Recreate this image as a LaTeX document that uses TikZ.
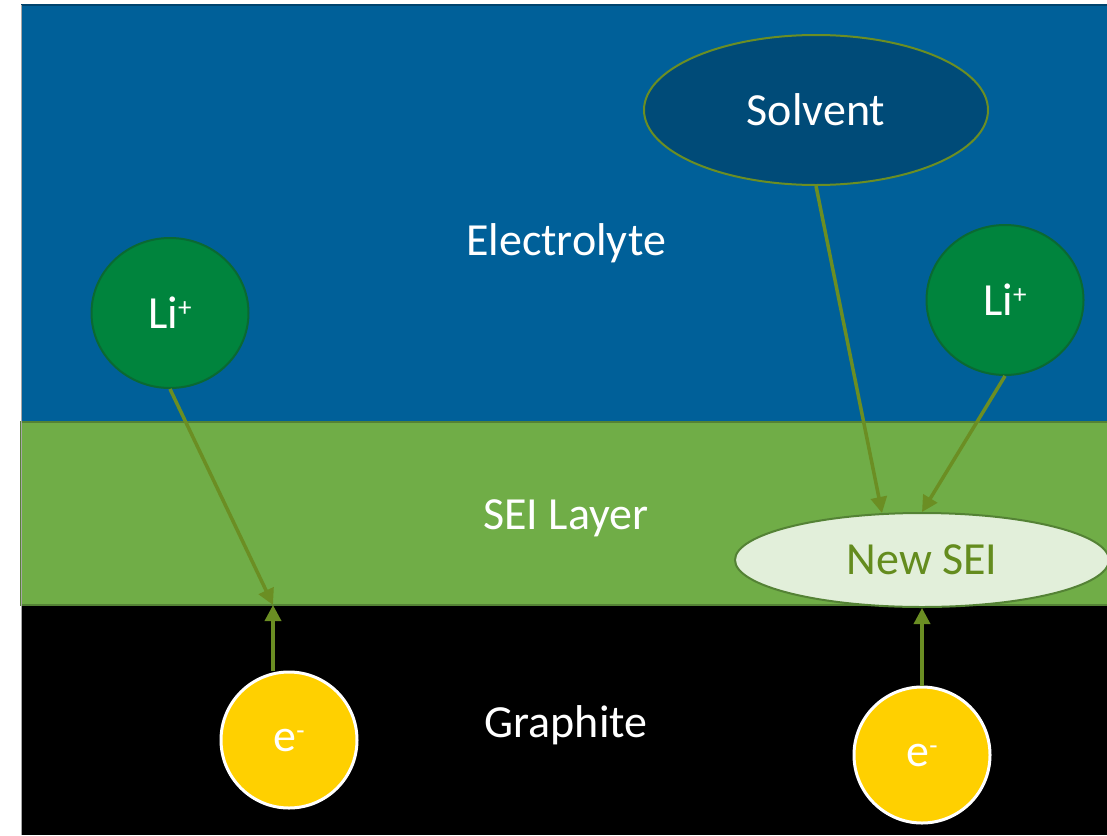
\documentclass[tikz,border=0pt]{standalone}
\usepackage{fontspec}
\setmainfont{Carlito}
\usetikzlibrary{shapes.geometric,arrows.meta,calc}
\definecolor{elec}{RGB}{0,96,153}
\definecolor{elecdark}{RGB}{0,68,110}
\definecolor{sei}{RGB}{112,173,71}
\definecolor{seidark}{RGB}{84,130,53}
\definecolor{solv}{RGB}{0,75,120}
\definecolor{arrowc}{RGB}{107,142,35}
\definecolor{lifill}{RGB}{0,132,61}
\definecolor{lidark}{RGB}{10,105,50}
\definecolor{efill}{RGB}{255,208,0}
\definecolor{newfill}{RGB}{226,239,218}
\definecolor{newtext}{RGB}{100,140,30}
\newcommand{\supsym}[1]{\raisebox{0.26em}{\fontsize{27}{30}\selectfont #1}}
\begin{document}
\begin{tikzpicture}[x=1pt,y=-1pt,
  every node/.style={font=\fontsize{46}{50}\selectfont},
  lbl/.style={text=white},
  liball/.style={ellipse, fill=lifill, draw=lidark, line width=2pt, minimum width=157pt, minimum height=150pt, inner sep=0pt, text=white},
  eball/.style={circle, fill=efill, draw=white, line width=3pt, minimum size=136pt, inner sep=0pt, text=white},
  arr/.style={draw=arrowc, line width=3.5pt, -{Triangle[length=16pt,width=16pt]}}
]
\useasboundingbox (0,0) rectangle (1107,835);
\fill[white] (0,0) rectangle (1107,835);
\fill[elec] (21,5) rectangle (1107,422);
\draw[elecdark, line width=2pt] (21,5) -- (1107,5);
\fill[black] (21,605) rectangle (1107,835);
\filldraw[fill=sei, draw=seidark, line width=2pt] (21,422) rectangle (1112,605);
\draw[gray!70, line width=1pt] (21,5) -- (21,835);

\node[lbl] (elabel) at (566,243) {Electrolyte};
\node[lbl] (slabel) at (566,518) {SEI Layer};
\node[lbl] (glabel) at (566,725) {Graphite};

\node[ellipse, fill=solv, draw=arrowc, line width=2pt, minimum width=344pt, minimum height=150pt, inner sep=0pt, text=white] (solvent) at (816,110) {Solvent};
\node[liball] (liL) at (170,313) {Li\supsym{+}};
\node[liball] (liR) at (1005,300) {Li\supsym{+}};
\node[ellipse, fill=newfill, draw=seidark, line width=2pt, minimum width=374pt, minimum height=94pt, inner sep=0pt, text=newtext] (newsei) at (922,560) {New SEI};
\node[eball] (eL) at (289,740) {e\supsym{-}};
\node[eball] (eR) at (922,755) {e\supsym{-}};

\coordinate (b1) at (273,605);

\draw[arr] (liL.south) -- (b1);
\draw[arr] (eL.north -| b1) -- (b1);
\draw[arr] (solvent.south) -- ($(newsei.north)+(-40,1)$);
\draw[arr] (liR.south) -- (newsei.north);
\draw[arr] (eR.north) -- (newsei.south);
\end{tikzpicture}
\end{document}
